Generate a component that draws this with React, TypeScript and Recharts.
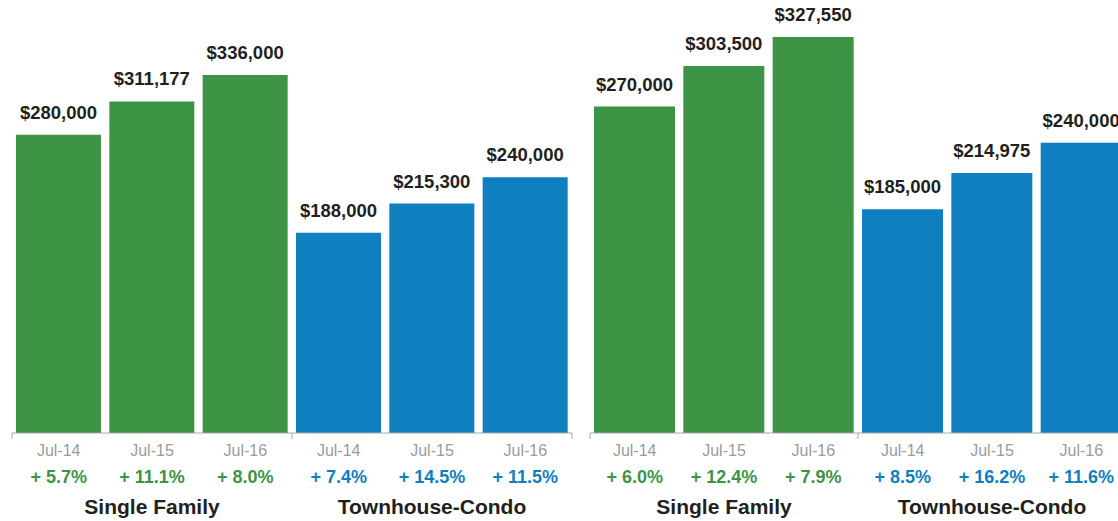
import { BarChart, Bar, XAxis, YAxis, Cell, LabelList } from 'recharts';

// categories and groups shared by both panels
const months = ['Jul-14', 'Jul-15', 'Jul-16'];
const groups = ['Single Family', 'Townhouse-Condo'];

// left panel: median prices and year-over-year change
const leftPrices = [280000, 311177, 336000, 188000, 215300, 240000];
const leftChanges = [5.7, 11.1, 8.0, 7.4, 14.5, 11.5];

// right panel
const rightPrices = [270000, 303500, 327550, 185000, 214975, 240000];
const rightChanges = [6.0, 12.4, 7.9, 8.5, 16.2, 11.6];

const GREEN = '#3d9445';
const BLUE = '#0f7fc0';
const FONT = '"Liberation Sans", Arial, Helvetica, sans-serif';

function buildRows(prices: number[], changes: number[]) {
  const rows: any[] = [];
  groups.forEach((group, g) => {
    months.forEach((month, m) => {
      const i = g * months.length + m;
      rows.push({
        id: `${group}-${month}`,
        month,
        group,
        value: prices[i],
        change: changes[i],
        color: g === 0 ? GREEN : BLUE,
      });
    });
  });
  return rows;
}

interface PanelProps {
  prices: number[];
  changes: number[];
  domainMax: number;
  width: number;
  left: number;
}

function Panel({ prices, changes, domainMax, width, left }: PanelProps) {
  const rows = buildRows(prices, changes);
  const margin = { top: 37, right: 12, bottom: 0, left: 12 };
  const band = (width - margin.left - margin.right) / rows.length;

  const MonthTick = ({ x, y, payload, index }: any) => {
    const i = payload?.index ?? index;
    const row = rows[i];
    if (!row) return null;
    const edges: number[] = [];
    if (i % months.length === 0) edges.push(-band / 2);
    if (i === rows.length - 1) edges.push(band / 2);
    return (
      <g transform={`translate(${x},${y})`}>
        {edges.map((dx, k) => (
          <line key={k} x1={dx} x2={dx} y1={0} y2={6} stroke="#a8a8a8" strokeWidth={1} />
        ))}
        <text x={0} y={23} textAnchor="middle" fill="#9b9b9b" fontSize={16} fontFamily={FONT}>
          {row.month}
        </text>
        <text x={0} y={50} textAnchor="middle" fill={row.color} fontSize={18} fontWeight="bold" fontFamily={FONT}>
          {`+ ${row.change.toFixed(1)}%`}
        </text>
      </g>
    );
  };

  const GroupTick = ({ x, y, payload }: any) => (
    <text x={x} y={y + 26} textAnchor="middle" fill="#231f20" fontSize={21} fontWeight="bold" fontFamily={FONT}>
      {payload.value}
    </text>
  );

  const ValueLabel = ({ x, y, width: w, value }: any) => (
    <text x={x + w / 2} y={y - 16} textAnchor="middle" fill="#231f20" fontSize={18.5} fontWeight="bold" fontFamily={FONT}>
      {`$${Number(value).toLocaleString('en-US')}`}
    </text>
  );

  return (
    <div style={{ position: 'absolute', left, top: 0 }}>
      <BarChart width={width} height={521} data={rows} margin={margin} barCategoryGap={4}>
        <YAxis hide domain={[0, domainMax]} />
        <XAxis
          dataKey="id"
          height={55}
          tickSize={0}
          tickMargin={0}
          tickLine={false}
          axisLine={{ stroke: '#a8a8a8' }}
          interval={0}
          tick={<MonthTick />}
        />
        <XAxis
          xAxisId="group"
          dataKey="group"
          allowDuplicatedCategory={false}
          height={33}
          tickSize={0}
          tickMargin={0}
          tickLine={false}
          axisLine={false}
          interval={0}
          tick={<GroupTick />}
        />
        <Bar dataKey="value" isAnimationActive={false}>
          {rows.map((r, i) => (
            <Cell key={`cell-${i}`} fill={r.color} />
          ))}
          <LabelList dataKey="value" content={<ValueLabel />} />
        </Bar>
      </BarChart>
    </div>
  );
}

export default function App() {
  return (
    <div
      style={{
        position: 'fixed',
        left: 0,
        top: 0,
        width: 1118,
        height: 521,
        overflow: 'hidden',
        background: '#fff',
        fontFamily: FONT,
      }}
    >
      <Panel prices={leftPrices} changes={leftChanges} domainMax={371650} width={584} left={0} />
      <Panel prices={rightPrices} changes={rightChanges} domainMax={327550} width={560} left={578} />
    </div>
  );
}
